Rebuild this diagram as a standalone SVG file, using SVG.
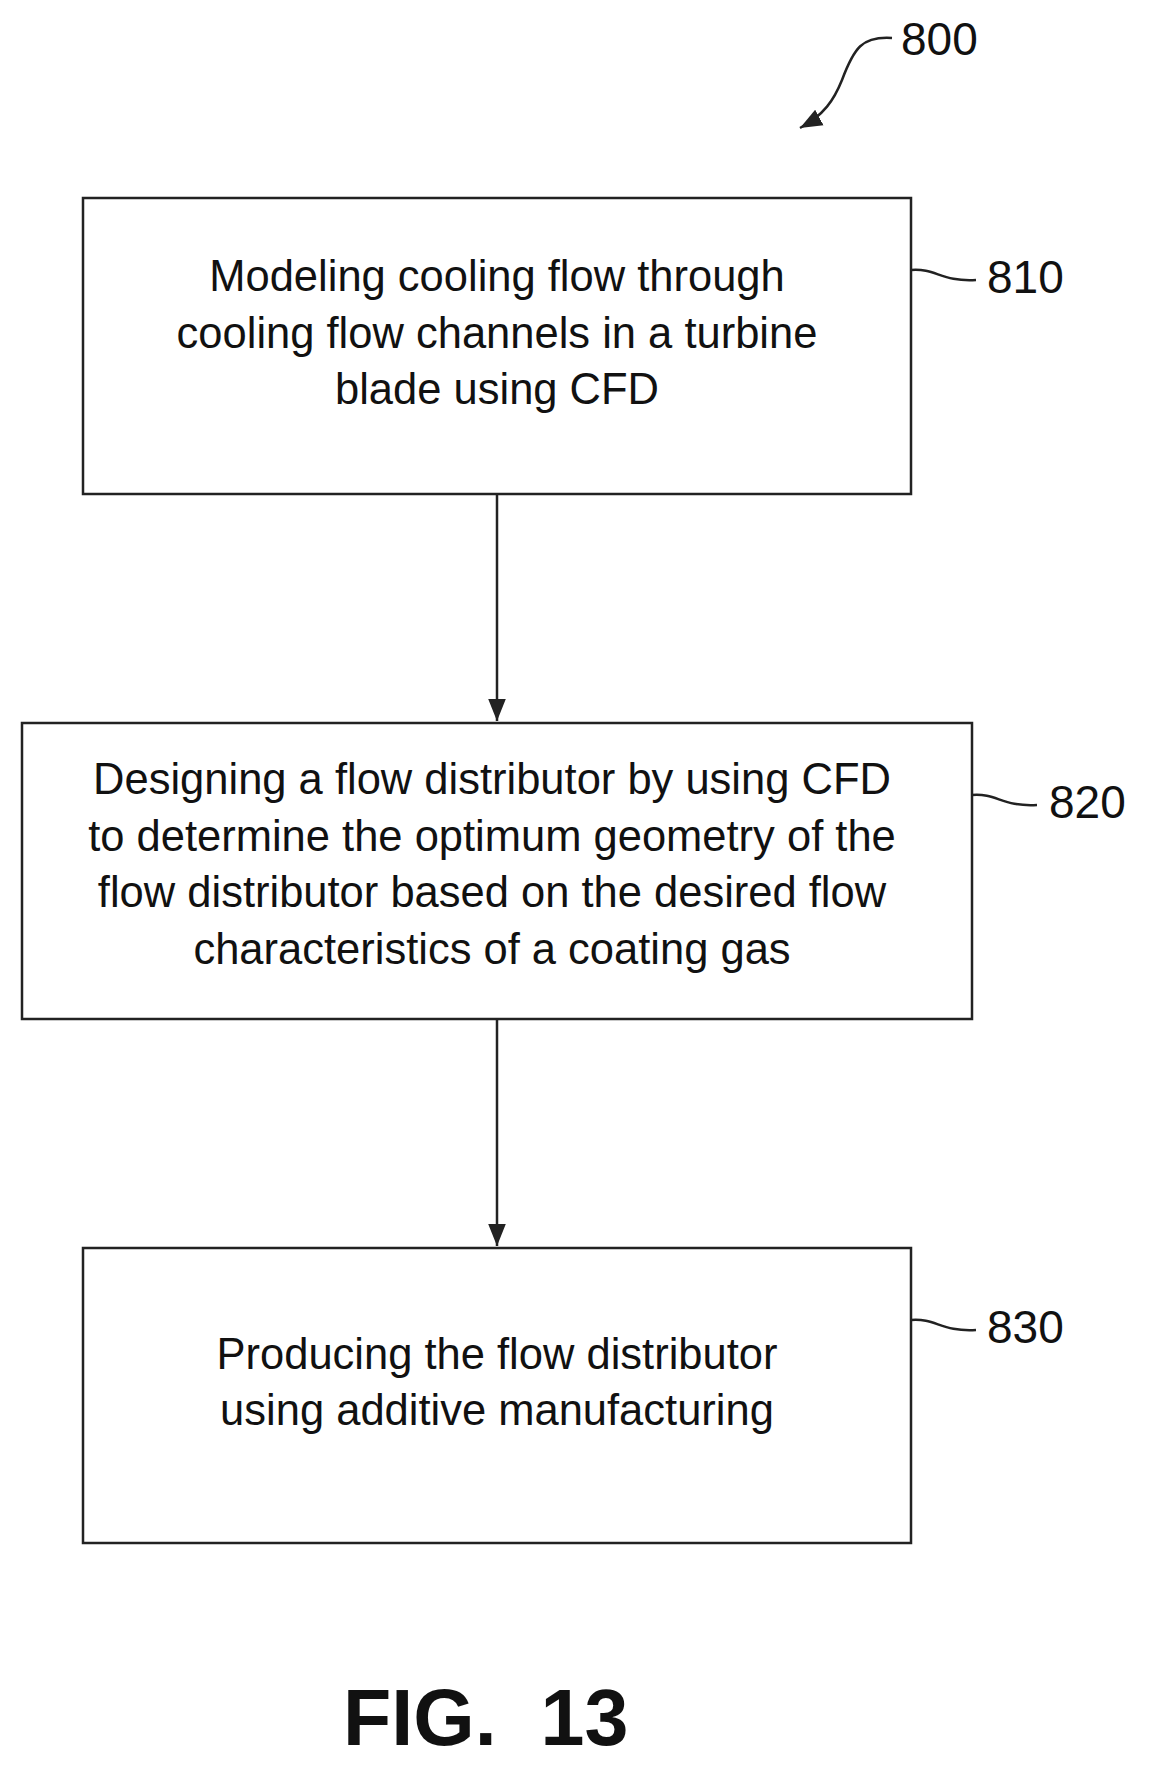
<svg xmlns="http://www.w3.org/2000/svg" width="1153" height="1776" viewBox="0 0 1153 1776">
<style>
.box{fill:#fff;stroke:#222;stroke-width:2.5}
.t{font-family:"Liberation Sans",Arial,sans-serif;font-size:43.5px;fill:#111;text-anchor:middle}
.l{font-family:"Liberation Sans",Arial,sans-serif;font-size:46px;fill:#111}
.c{fill:none;stroke:#222;stroke-width:2.5}
</style>
<defs><marker id="a2" viewBox="0 0 10 10" refX="10" refY="5" markerWidth="22" markerHeight="22" orient="auto" markerUnits="userSpaceOnUse"><path d="M0,1 L10,5 L0,9 z" fill="#222"/></marker></defs>
<g id="label800"><path class="c" d="M892,38 C862,36 854,48 842,80 C834,100 824,115 800,128" marker-end="url(#a2)"/><text class="l" x="901" y="55">800</text></g>
<g id="n810"><rect class="box" x="83" y="198" width="828" height="296"/>
<text class="t" x="497" y="291">Modeling cooling flow through</text>
<text class="t" x="497" y="348">cooling flow channels in a turbine</text>
<text class="t" x="497" y="404">blade using CFD</text>
<path class="c" d="M911,270 C936,268 941,282 976,280"/><text class="l" x="987" y="293">810</text></g>
<g id="n820"><rect class="box" x="22" y="723" width="950" height="296"/>
<text class="t" x="492" y="794">Designing a flow distributor by using CFD</text>
<text class="t" x="492" y="851">to determine the optimum geometry of the</text>
<text class="t" x="492" y="907">flow distributor based on the desired flow</text>
<text class="t" x="492" y="964">characteristics of a coating gas</text>
<path class="c" d="M972,795 C997,793 1002,807 1037,805"/><text class="l" x="1049" y="818">820</text></g>
<g id="n830"><rect class="box" x="83" y="1248" width="828" height="295"/>
<text class="t" x="497" y="1369">Producing the flow distributor</text>
<text class="t" x="497" y="1425">using additive manufacturing</text>
<path class="c" d="M911,1320 C936,1318 941,1332 976,1330"/><text class="l" x="987" y="1343">830</text></g>
<g id="connectors"><line x1="497" y1="494" x2="497" y2="721" stroke="#222" stroke-width="2.5" marker-end="url(#a2)"/>
<line x1="497" y1="1019" x2="497" y2="1246" stroke="#222" stroke-width="2.5" marker-end="url(#a2)"/></g>
<text x="343" y="1745" font-family="Liberation Sans,Arial,sans-serif" font-weight="bold" font-size="79" fill="#111" xml:space="preserve">FIG.  13</text>
</svg>
